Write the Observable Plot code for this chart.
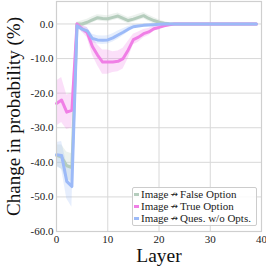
<!DOCTYPE html>
<html>
<head>
<meta charset="utf-8">
<script src="https://cdn.jsdelivr.net/npm/d3@7"></script>
<script src="https://cdn.jsdelivr.net/npm/@observablehq/plot@0.6"></script>
<style>
  body { margin: 0; background: #fff; }
  #wrap { position: relative; width: 266px; height: 266px; font-family: "Liberation Serif", "DejaVu Serif", serif; }
  g[aria-label="y-axis label"] text { font-size: 19px; fill: #111; }
  g[aria-label="y-axis tick label"] text, g[aria-label="x-axis tick label"] text { font-size: 11px; fill: #222; }
  #legend { position: absolute; left: 132px; top: 187px; width: 125px; border: 1px solid #ccc; border-radius: 2px;
            background: rgba(255,255,255,0.85); font-size: 11px; line-height: 12px; padding: 0 0 1px 1px; box-sizing: border-box; color:#222; }
  #legend .row { display: flex; align-items: center; white-space: nowrap; }
  #legend .sw { width: 5px; height: 3px; margin-right: 2px; }
  #legend .arr { font-family: "DejaVu Sans"; font-size: 9px; margin: 0 2px; }
</style>
</head>
<body>
<div id="wrap"></div>
<script>
const layers = d3.range(0, 40);
const xLabel = "Layer";
const yLabel = "Change in probability (%)";
const seriesNames = ["Image \u219B False Option", "Image \u219B True Option", "Image \u219B Ques. w/o Opts."];
const seriesColors = ["#b5cdbd", "#f07fe6", "#9cbaf8"];
const falseMean = [-38,-38.5,-41,-41.5,0,0,0.5,1.2,1.8,1.6,1.5,1.9,2.3,1.6,1.0,1.4,1.9,2.4,1.6,1.0,0.5,0.2,0.05,0,0,0,0,0,0,0,0,0,0,0,0,0,0,0,0,0];
const falseStd  = [3,3.5,4,4,0.5,0.9,0.9,0.9,0.9,0.9,0.9,0.9,0.9,0.9,0.9,0.9,0.9,0.9,0.9,0.9,0.7,0.5,0.3,0.1,0.1,0.1,0.1,0.1,0.1,0.1,0.1,0.1,0.1,0.1,0.1,0.1,0.1,0.1,0.1,0.1];
const trueMean  = [-23,-22,-25.5,-25,0,-1.4,-2.5,-6.5,-9,-11,-11,-11,-10.8,-10,-7.5,-4.5,-3.8,-2.8,-2.3,-1.4,-1,-0.5,-0.2,0,0,0,0,0,0,0,0,0,0,0,0,0,0,0,0,0];
const trueStd   = [6.5,6.5,5,5,0.5,1,1.5,2.5,3,3.5,3.5,3,3,3,2.5,1.5,1.5,1.2,1,0.8,0.5,0.3,0.1,0.1,0.1,0.1,0.1,0.1,0.1,0.1,0.1,0.1,0.1,0.1,0.1,0.1,0.1,0.1,0.1,0.1];
const quesMean  = [-37.8,-38,-45.5,-47,-0.5,-1.5,-2,-4.2,-4.6,-4.7,-4.6,-4,-3.2,-2.4,-1.5,-0.8,-0.6,-0.4,-0.3,-0.2,-0.1,0,0,0,0,0,0,0,0,0,0,0,0,0,0,0,0,0,0,0];
const quesStd   = [3.5,4,5,6,0.5,0.8,1,1.2,1.2,1.2,1.2,1.2,1.2,1,0.8,0.6,0.4,0.4,0.4,0.4,0.4,0.1,0.1,0.1,0.1,0.1,0.1,0.1,0.1,0.1,0.1,0.1,0.1,0.1,0.1,0.1,0.1,0.1,0.1,0.1];
const yTicks = [0,-10,-20,-30,-40,-50,-60];
const xTicks = [0,10,20,30,40];

const means = [falseMean, trueMean, quesMean];
const stds = [falseStd, trueStd, quesStd];
const rows = [];
seriesNames.forEach((name, si) => {
  layers.forEach((l, i) => rows.push({series: name, layer: l, mean: means[si][i], lo: means[si][i] - stds[si][i], hi: means[si][i] + stds[si][i]}));
});

const marks = [
  Plot.gridX(xTicks, {stroke: "#d8d8d8", strokeOpacity: 1}),
  Plot.gridY(yTicks, {stroke: "#d8d8d8", strokeOpacity: 1}),
  Plot.axisX(xTicks, {tickSize: 0, tickPadding: 4, label: null}),
  Plot.text([xLabel], {frameAnchor: "bottom", lineAnchor: "middle", dy: 24, fontSize: 19.5, fill: "#111"}),
  Plot.axisY(yTicks, {tickSize: 0, tickPadding: 3, tickFormat: d => d.toFixed(1), label: yLabel, labelAnchor: "center", labelArrow: "none", labelOffset: 50}),
];
seriesNames.forEach((name, si) => {
  const d = rows.filter(r => r.series === name);
  marks.push(Plot.areaY(d, {x: "layer", y1: "lo", y2: "hi", fill: seriesColors[si], fillOpacity: 0.25}));
});
seriesNames.forEach((name, si) => {
  const d = rows.filter(r => r.series === name);
  marks.push(Plot.lineY(d, {x: "layer", y: "mean", stroke: seriesColors[si], strokeWidth: 3}));
});
marks.push(Plot.frame({stroke: "#cfcfcf", strokeWidth: 1.2}));

const chart = Plot.plot({
  width: 266, height: 266,
  marginLeft: 56, marginRight: 5, marginTop: 1, marginBottom: 35,
  style: {fontFamily: "Liberation Serif, DejaVu Serif, serif", background: "#fff"},
  x: {domain: [0, 40]},
  y: {domain: [-60, 6.5]},
  marks
});
const wrap = document.getElementById("wrap");
wrap.appendChild(chart);

const legend = document.createElement("div");
legend.id = "legend";
seriesNames.forEach((name, si) => {
  const row = document.createElement("div");
  row.className = "row";
  const sw = document.createElement("span");
  sw.className = "sw";
  sw.style.background = seriesColors[si];
  row.appendChild(sw);
  const parts = name.split("\u219B");
  const a = document.createElement("span"); a.textContent = parts[0].trim();
  const arr = document.createElement("span"); arr.className = "arr"; arr.textContent = "\u219B";
  const b = document.createElement("span"); b.textContent = parts[1].trim();
  row.appendChild(a); row.appendChild(arr); row.appendChild(b);
  legend.appendChild(row);
});
wrap.appendChild(legend);
</script>
</body>
</html>
